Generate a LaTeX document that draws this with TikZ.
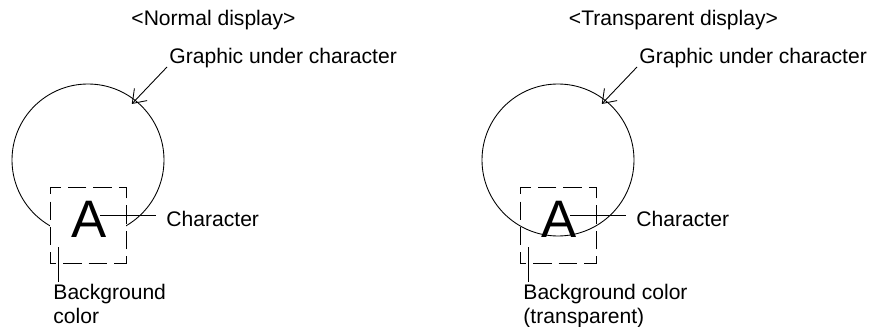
\documentclass[tikz,border=0pt]{standalone}
\usepackage{fontspec}
\setmainfont{Liberation Sans}
\usepackage{tikz}
\usetikzlibrary{arrows.meta, positioning, calc}

\begin{document}
\begin{tikzpicture}[>={Straight Barb[length=7pt,width=10pt]}, line width=0.5pt,
        graphic/.style={circle, draw, minimum size=3.04cm, inner sep=0pt},
        bgbox/.style={draw, dash pattern=on 10.5pt off 4pt, dash phase=7pt, minimum size=1.52cm, inner sep=0pt},
        glyph/.style={font=\fontsize{30}{30}\selectfont, inner sep=0pt},
        lbl/.style={font=\fontsize{12}{13.6}\selectfont, inner sep=0pt, align=left}]
      \useasboundingbox (0,0) rectangle (17.58,6.52);

      \node[lbl] (T1) at (4.27,6.12) {<Normal display>};
      \node[graphic] (G1) at (1.76,3.32) {};
      \node[bgbox, fill=white] (B1) at (1.76,2.02) {};
      \node[glyph] (A1) at (1.78,2.14) {A};
      \node[lbl, anchor=west] (C1) at (3.32,2.14) {Character};
      \node[lbl, anchor=north west] (BG1) at (1.06,0.84) {Background\\color};
      \node[lbl, anchor=west] (L1) at (3.38,5.36) {Graphic under character};

      \draw ($(A1.center)+(0.22,0.08)$) -- ($(C1.west)+(-0.2,0.08)$);
      \draw ($(BG1.north west)+(0.1,0.04)$) -- ++(0,0.7);
      \draw[->] ($(L1.west)+(-0.04,-0.18)$) -- ($(G1.center)!0.93!(G1.52)$);

      \node[lbl] (T2) at (13.47,6.12) {<Transparent display>};
      \node[graphic] (G2) at (11.16,3.32) {};
      \node[bgbox] (B2) at (11.16,2.02) {};
      \node[glyph] (A2) at (11.18,2.14) {A};
      \node[lbl, anchor=west] (C2) at (12.72,2.14) {Character};
      \node[lbl, anchor=north west] (BG2) at (10.46,0.84) {Background color\\(transparent)};
      \node[lbl, anchor=west] (L2) at (12.78,5.36) {Graphic under character};

      \draw ($(A2.center)+(0.22,0.08)$) -- ($(C2.west)+(-0.2,0.08)$);
      \draw ($(BG2.north west)+(0.1,0.04)$) -- ++(0,0.7);
      \draw[->] ($(L2.west)+(-0.04,-0.18)$) -- ($(G2.center)!0.93!(G2.52)$);
    \end{tikzpicture}
\end{document}
